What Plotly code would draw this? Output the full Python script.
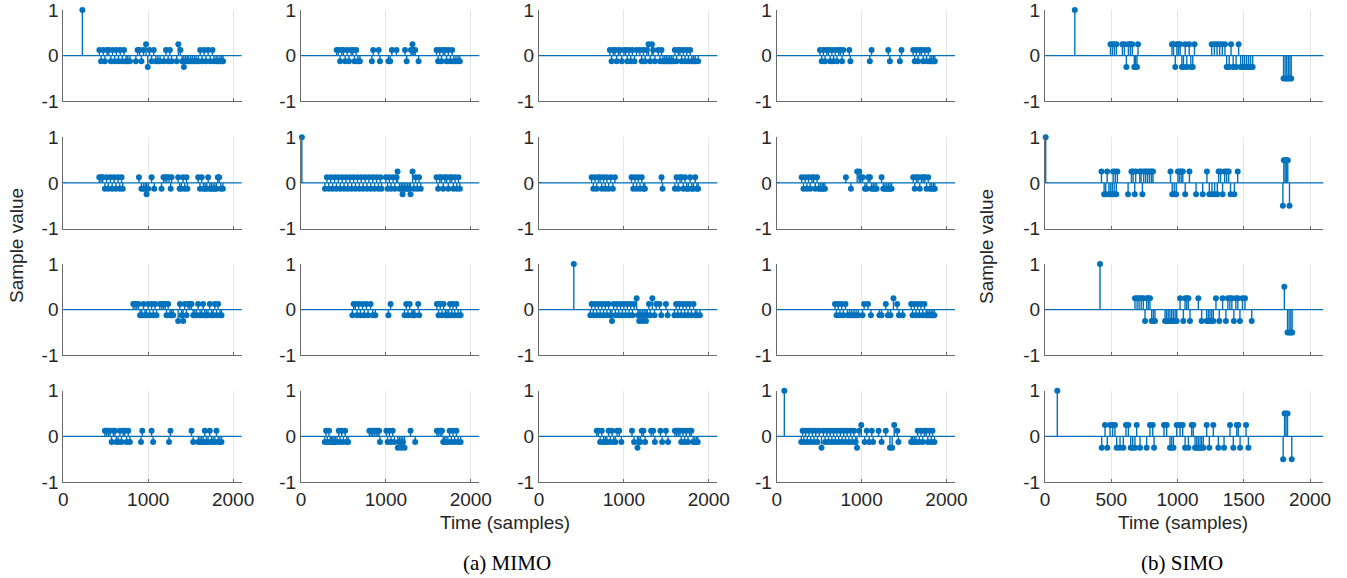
import plotly.graph_objects as go

# ---------------- data: (time in samples, sample value) ----------------
m11 = [(225,1),
       (425,.125),(445,-.125),(470,.125),(490,-.125),(515,.125),(535,.125),(560,-.125),(580,.125),(605,-.125),(625,.125),(650,-.125),(670,.125),(695,-.125),(715,.125),(740,-.125),(760,-.125),(785,-.125),
       (855,-.125),(875,.125),(900,.125),(920,-.125),(945,.125),(975,.25),(995,-.25),(1015,.125),(1040,-.125),(1065,.125),(1090,-.125),(1115,-.125),(1140,-.125),
       (1185,-.125),(1210,.125),(1235,-.125),(1255,.125),(1275,-.125),
       (1335,-.125),(1355,.25),(1380,.125),(1400,-.125),(1420,-.25),(1440,-.125),(1460,-.125),
       (1475,-.125),(1500,-.125),(1520,-.125),(1545,-.125),(1565,-.125),(1590,-.125),(1612,.125),(1635,-.125),(1659,.125),(1680,-.125),(1706,.125),(1730,-.125),(1757,.125),(1775,-.125),(1800,-.125),(1820,-.125),(1845,-.125),(1865,-.125),(1882,-.125)]

m12 = [(420,.125),(440,.125),(460,-.125),(480,.125),(500,.125),(520,-.125),(545,.125),(565,-.125),(590,.125),(610,.125),(630,-.125),(650,.125),(670,-.125),(694,-.125),
       (835,-.125),(850,.125),(915,.125),(930,-.125),
       (1030,-.125),(1050,-.125),(1070,.125),(1125,.125),
       (1225,.125),(1245,-.125),(1295,.125),(1313,.25),(1330,.125),(1345,.125),(1385,-.125),
       (1596,.125),(1615,-.125),(1635,.125),(1655,-.125),(1675,.125),(1695,.125),(1715,-.125),(1735,.125),(1760,-.125),(1780,.125),(1800,-.125),(1825,-.125),(1850,-.125),(1871,-.125)]

m13 = [(835,.125),(855,-.125),(875,.125),(895,.125),(915,-.125),(935,.125),(955,.125),(975,-.125),(1000,.125),(1020,.125),(1040,-.125),(1060,.125),(1080,-.125),(1100,.125),(1125,-.125),(1149,.125),
       (1188,.125),(1210,-.125),(1230,.125),(1250,-.125),(1270,.125),(1290,.25),(1310,-.125),(1330,.25),(1345,.125),(1365,-.125),
       (1404,.125),(1425,-.125),(1443,.125),
       (1460,-.125),(1480,-.125),(1500,-.125),(1520,-.125),(1540,-.125),(1560,-.125),(1580,-.125),(1600,.125),(1620,-.125),(1640,.125),(1660,.125),(1680,-.125),(1700,.125),(1720,-.125),(1740,.125),(1760,-.125),(1780,.125),(1800,-.125),(1820,-.125),(1840,-.125),(1874,-.125)]

m14 = [(510,.125),(530,-.125),(550,.125),(570,-.125),(590,.125),(610,.125),(630,-.125),(650,.125),(670,-.125),(690,.125),(710,-.125),(730,.125),(750,.125),(770,-.125),(784,.125),
       (855,.125),(868,-.125),(1097,-.125),(1117,.125),(1314,.125),(1333,-.125),(1451,-.125),(1470,.125),
       (1608,.125),(1625,-.125),(1645,.125),(1665,-.125),(1685,.125),(1705,.125),(1725,-.125),(1745,.125),(1765,-.125),(1785,.125),(1805,-.125),(1825,-.125),(1845,-.125),(1862,-.125)]

m21 = [(424,.125),(445,.125),(465,.125),(490,-.125),(510,.125),(530,-.125),(555,.125),(575,-.125),(600,.125),(620,-.125),(645,.125),(665,-.125),(686,.125),(700,-.125),
       (891,.125),(920,-.125),(945,-.125),(965,-.125),(981,-.25),(1000,-.125),(1040,.125),(1071,-.125),
       (1157,-.125),(1180,.125),(1200,.125),(1220,.125),(1245,.125),(1265,-.125),(1275,.125),
       (1353,.125),(1370,-.125),(1390,-.125),(1410,.125),(1430,-.125),(1451,.125),(1462,-.125),
       (1589,.125),(1610,-.125),(1630,.125),(1650,-.125),(1670,-.125),(1690,-.125),(1706,.125),(1725,-.125),(1745,-.125),(1765,-.125),(1785,-.125),(1805,-.125),(1820,.125),(1836,.125),(1855,-.125),(1880,-.125)]

m22 = [(10,1),
       (282,-.125),(305,.125),(327,-.125),(350,.125),(372,-.125),(395,.125),(417,-.125),(440,.125),(462,-.125),(485,.125),(507,-.125),(530,.125),(552,-.125),(575,.125),(597,-.125),(620,.125),
       (642,-.125),(665,.125),(687,-.125),(710,.125),(732,-.125),(755,.125),(777,-.125),(800,.125),(822,-.125),(845,.125),(867,-.125),(890,.125),(912,-.125),(935,.125),(949,-.125),
       (1000,.125),(1020,-.125),(1040,.125),(1060,-.125),(1085,.125),(1105,-.125),(1125,.125),
       (1137,.25),(1160,-.125),(1180,-.125),(1196,-.25),(1215,-.125),(1235,-.125),(1255,-.125),(1275,-.125),(1290,-.25),(1314,.25),(1330,-.125),(1350,.125),(1370,-.125),(1390,.125),(1410,-.125),
       (1596,.125),(1615,-.125),(1635,.125),(1655,.125),(1675,-.125),(1695,.125),(1715,.125),(1735,-.125),(1755,.125),(1775,.125),(1795,-.125),(1815,.125),(1835,-.125),(1855,.125),(1871,-.125)]

m23 = [(620,.125),(640,-.125),(660,.125),(680,-.125),(700,.125),(720,.125),(740,-.125),(760,.125),(780,-.125),(800,.125),(820,-.125),(845,.125),(870,-.125),(894,.125),
       (1090,.125),(1110,-.125),(1130,.125),(1150,-.125),(1170,.125),(1190,-.125),(1210,.125),(1230,-.125),(1247,-.125),
       (1443,.125),(1455,-.125),
       (1600,-.125),(1620,.125),(1640,-.125),(1660,.125),(1680,.125),(1700,-.125),(1720,.125),(1740,-.125),(1760,-.125),(1780,.125),(1800,-.125),(1820,-.125),(1840,.125),(1860,-.125),(1874,-.125)]

m24 = [(294,.125),(315,-.125),(335,.125),(355,-.125),(375,.125),(395,-.125),(415,.125),(435,.125),(455,-.125),(475,.125),(495,-.125),(515,-.125),(535,-.125),(550,-.125),(568,-.125),
       (815,.125),(874,-.125),(948,.25),(972,.25),(990,.125),(1011,.125),(1039,-.125),(1060,-.125),(1078,.125),(1098,.125),(1117,-.125),(1137,-.125),(1157,-.125),(1176,-.125),
       (1235,.125),(1255,-.125),(1275,-.125),(1295,-.125),(1315,-.125),(1335,-.125),(1353,-.125),
       (1608,.125),(1625,-.125),(1645,.125),(1665,.125),(1685,-.125),(1705,.125),(1725,.125),(1745,.125),(1765,-.125),(1785,.125),(1805,-.125),(1825,-.125),(1845,-.125),(1862,-.125)]

m31 = [(824,.125),(845,.125),(865,.125),(885,.125),(905,-.125),(925,-.125),(945,.125),(961,-.125),(980,-.125),(1000,.125),(1020,-.125),(1040,.125),(1060,-.125),(1080,.125),(1098,-.125),
       (1137,.125),(1160,.125),(1180,.125),(1200,.125),(1216,-.125),(1235,.125),(1255,-.125),(1275,-.125),(1294,-.125),
       (1353,-.25),(1373,.125),(1392,-.125),(1412,-.25),(1430,.125),(1450,-.125),(1470,.125),(1490,.125),(1510,.125),(1530,-.125),(1550,-.125),(1570,-.125),
       (1588,.125),(1610,-.125),(1630,-.125),(1647,.125),(1665,-.125),(1685,-.125),(1705,-.125),(1725,.125),(1745,-.125),(1765,-.125),(1785,.125),(1805,-.125),(1823,.125),(1845,-.125),(1863,-.125)]

m32 = [(605,-.125),(620,.125),(640,.125),(660,-.125),(680,.125),(700,-.125),(725,.125),(745,-.125),(770,.125),(790,-.125),(820,.125),(845,-.125),(875,-.125),
       (1030,-.125),(1055,.125),
       (1220,-.125),(1240,.125),(1260,-.125),(1280,.125),(1305,-.125),(1322,-.125),(1340,-.125),(1380,.125),(1392,-.125),
       (1600,.125),(1620,-.125),(1640,.125),(1660,-.125),(1680,.125),(1700,-.125),(1720,-.125),(1740,-.125),(1755,.125),(1775,-.125),(1790,.125),(1810,-.125),(1830,.125),(1850,-.125),(1880,-.125)]

m33 = [(410,1),
       (605,-.125),(620,.125),(640,-.125),(660,.125),(680,-.125),(700,.125),(720,-.125),(740,.125),(760,-.125),(780,.125),(800,-.125),(820,.125),(840,-.125),(860,-.25),(880,.125),(900,-.125),
       (920,.125),(940,-.125),(960,.125),(980,-.125),(1000,.125),(1020,-.125),(1040,.125),(1060,-.125),(1080,.125),(1100,-.125),(1120,.125),
       (1150,.25),(1165,-.125),(1180,-.25),(1200,-.125),(1220,-.25),(1240,-.125),(1260,-.25),(1275,-.125),(1295,.125),(1310,-.125),(1335,.25),(1360,-.125),(1380,.125),
       (1420,.125),(1440,-.125),(1495,.125),(1515,-.125),
       (1595,-.125),(1615,.125),(1635,-.125),(1655,.125),(1675,-.125),(1695,.125),(1715,-.125),(1735,.125),(1755,-.125),(1775,.125),(1795,-.125),(1820,.125),(1840,-.125),(1860,-.125),(1895,-.125)]

m34 = [(687,.125),(705,-.125),(725,.125),(745,-.125),(765,.125),(785,-.125),(810,.125),(835,-.125),(860,-.125),(885,-.125),(910,-.125),(935,-.125),(961,-.125),
       (1011,-.125),(1030,.125),(1075,.125),(1110,-.125),
       (1210,-.125),(1235,-.125),(1285,.125),(1310,-.125),(1340,-.125),(1375,.25),(1419,.125),(1440,-.125),(1484,-.125),
       (1584,.125),(1600,-.125),(1620,.125),(1640,-.125),(1660,.125),(1680,-.125),(1700,.125),(1720,-.125),(1740,.125),(1760,-.125),(1780,-.125),(1800,-.125),(1820,-.125),(1840,-.125),(1858,-.125)]

m41 = [(490,.125),(510,.125),(530,.125),(550,.125),(569,-.125),(590,.125),(608,.125),(625,-.125),(645,-.125),(667,.125),(685,-.125),(705,.125),(725,.125),(745,-.125),(765,.125),(784,-.125),
       (915,-.125),(930,.125),(1040,.125),(1058,-.125),(1245,-.125),(1262,.125),
       (1510,.125),(1530,-.125),(1590,-.125),(1610,-.125),(1630,-.125),(1650,-.125),(1667,.125),(1685,-.125),(1705,-.125),(1725,.125),(1745,-.125),(1765,-.125),(1785,-.125),(1804,.125),(1825,-.125),(1845,-.125),(1863,-.125)]

m42 = [(280,-.125),(295,.125),(310,-.125),(330,.125),(345,-.125),(360,-.125),(375,-.125),(390,-.125),(405,-.125),(425,-.125),(445,.125),(460,-.125),(480,.125),(500,-.125),(520,.125),(540,-.125),(555,-.125),
       (805,.125),(825,.125),(845,.125),(865,.125),(885,.125),(905,.125),(920,.125),(930,-.125),
       (1005,.125),(1020,-.125),(1040,.125),(1060,-.125),(1080,.125),(1100,-.125),(1140,-.25),(1160,-.125),(1180,-.25),(1200,-.125),(1220,-.25),(1290,.125),(1345,-.125),
       (1600,.125),(1620,.125),(1640,.125),(1660,.125),(1675,-.125),(1690,-.125),(1710,-.125),(1730,-.125),(1750,.125),(1770,-.125),(1790,.125),(1810,-.125),(1830,.125),(1850,-.125),(1880,-.125)]

m43 = [(680,.125),(700,.125),(720,-.125),(740,.125),(760,-.125),(780,-.125),(800,-.125),(820,.125),(840,-.125),(860,.125),(880,-.125),(900,-.125),(920,.125),(945,.125),(970,-.125),
       (1095,.125),(1120,-.125),(1160,-.25),(1175,-.125),(1195,-.125),(1210,.125),(1230,.125),(1250,-.125),(1320,.125),(1345,.125),(1365,-.125),
       (1430,.125),(1450,-.125),(1495,.125),(1520,-.125),
       (1600,.125),(1620,.125),(1640,.125),(1660,.125),(1675,-.125),(1695,.125),(1715,-.125),(1735,.125),(1755,-.125),(1775,.125),(1795,.125),(1815,-.125),(1835,-.125),(1855,-.125),(1870,-.125)]

m44 = [(90,1),
       (289,-.125),(305,.125),(320,-.125),(340,.125),(360,-.125),(380,.125),(400,-.125),(420,.125),(440,-.125),(460,.125),(480,-.125),(500,.125),(528,-.25),(550,.125),(570,-.125),(590,.125),
       (610,-.125),(630,.125),(650,-.125),(670,.125),(690,-.125),(710,.125),(730,-.125),(750,.125),(770,-.125),(790,.125),(810,-.125),(830,.125),(850,-.125),(870,.125),(890,-.125),(910,.125),
       (930,-.125),(946,-.25),(970,.125),(996,.25),
       (1036,-.125),(1061,.125),(1090,-.125),(1120,.125),(1135,-.125),(1200,.125),(1235,-.125),(1285,.125),(1334,-.25),(1360,-.25),(1384,.25),(1420,.125),(1434,-.125),
       (1584,-.125),(1600,-.125),(1620,-.125),(1640,-.125),(1660,.125),(1680,-.125),(1700,.125),(1720,-.125),(1740,.125),(1760,.125),(1780,-.125),(1800,.125),(1820,-.125),(1835,.125),(1858,-.125)]

s1 = [(225,1),
      (494,.25),(509,.25),(524,.25),(539,.25),(584,.25),(599,.25),(614,-.25),(629,.25),(644,.25),(659,.25),(674,-.25),(684,-.25),(694,-.25),(702,.25),
      (958,.25),(970,.25),(983,-.25),(995,.25),(1008,.25),(1020,.25),(1033,-.25),(1045,-.25),(1058,.25),(1070,-.25),(1088,.25),(1100,-.25),(1115,-.25),(1128,.25),
      (1258,.25),(1278,.25),(1298,.25),(1318,.25),(1338,.25),(1358,.25),(1371,-.25),(1390,-.25),(1404,.25),(1420,-.25),(1442,-.25),(1461,.25),(1476,-.25),(1491,-.25),(1506,-.25),(1521,-.25),(1536,-.25),(1551,-.25),(1567,-.25),
      (1800,-.5),(1812,-.5),(1824,-.5),(1836,-.5),(1848,-.5),(1858,-.5)]

s2 = [(5,1),
      (426,.25),(446,-.25),(458,-.25),(469,.25),(482,-.25),(495,-.25),(508,-.25),(514,.25),(522,-.25),(530,.25),(538,-.25),(546,.25),
      (627,-.25),(652,.25),(665,.25),(677,-.25),(684,.25),(715,.25),(725,.25),(735,-.25),(745,.25),(760,.25),(775,.25),(790,.25),(805,.25),(815,.25),
      (947,.25),(960,-.25),(975,-.25),(990,-.25),(1003,.25),(1015,.25),(1028,.25),(1040,.25),(1058,-.25),(1090,.25),(1140,-.25),(1190,-.25),(1222,.25),
      (1240,-.25),(1260,-.25),(1280,-.25),(1300,-.25),(1310,.25),(1325,.25),(1340,-.25),(1355,.25),(1370,.25),(1386,.25),(1400,-.25),(1429,-.25),(1454,.25),
      (1795,-.5),(1802,.5),(1812,.5),(1822,.5),(1832,.5),(1845,-.5)]

s3 = [(415,1),
      (679,.25),(695,.25),(710,.25),(726,.25),(742,.25),(755,-.25),(767,.25),(780,.25),(792,.25),(805,-.25),(818,-.25),(830,-.25),
      (906,-.25),(918,-.25),(930,-.25),(943,-.25),(956,-.25),(969,-.25),(982,-.25),(994,-.25),(1019,.25),(1044,-.25),(1057,.25),(1070,.25),(1082,.25),(1094,-.25),
      (1157,.25),(1182,-.25),(1220,-.25),(1233,-.25),(1245,-.25),(1258,-.25),(1270,-.25),(1290,.25),
      (1315,-.25),(1340,.25),(1365,-.25),(1380,.25),(1395,.25),(1410,.25),(1425,-.25),(1440,.25),(1455,.25),(1471,-.25),(1490,.25),(1509,.25),(1560,-.25),
      (1806,.5),(1830,-.5),(1842,-.5),(1855,-.5),(1865,-.5)]

s4 = [(93,1),
      (428,-.25),(453,.25),(470,-.25),(491,.25),(511,.25),(528,.25),(541,-.25),(566,-.25),(591,-.25),(611,.25),(629,.25),(647,-.25),(662,-.25),(679,-.25),(692,.25),(717,-.25),(767,-.25),(792,.25),(813,.25),(823,-.25),
      (898,.25),(918,.25),(943,-.25),(956,-.25),(969,-.25),(994,.25),(1019,.25),(1039,.25),(1057,-.25),(1082,-.25),(1107,.25),(1119,.25),(1132,-.25),(1145,-.25),(1157,-.25),(1170,-.25),(1182,-.25),(1195,-.25),
      (1220,.25),(1240,-.25),(1270,.25),(1308,-.25),(1351,-.25),(1396,.25),(1421,-.25),(1447,.25),(1459,.25),(1472,-.25),(1517,.25),(1535,-.25),
      (1797,-.5),(1808,.5),(1818,.5),(1830,.5),(1862,-.5)]

mimo_xticks = [0, 1000, 2000]
simo_xticks = [0, 500, 1000, 1500, 2000]
y_ticks = [-1, 0, 1]
y_ticktext = ["-1", "0", "1"]

grid = [[m11, m12, m13, m14, s1],
        [m21, m22, m23, m24, s2],
        [m31, m32, m33, m34, s3],
        [m41, m42, m43, m44, s4]]

# ---------------- styling / layout ----------------
W, H = 1347, 578
BLUE = "#0072BD"
AXC = "#6a6a6a"
GRIDC = "#e6e6e6"
TXT = "#262626"
FONT = "Liberation Sans, Arial, Helvetica, sans-serif"
col_left = [63.3, 301.0, 539.0, 776.7, 1045.0]
col_w = [178.3, 178.3, 178.3, 178.3, 278.3]
row_top = [10.0, 137.3, 264.0, 390.7]
row_h = 91.3

fig = go.Figure()
layout = {}
shapes = []
idx = 0
for r in range(4):
    for c in range(5):
        idx += 1
        data = grid[r][c]
        t = [p[0] for p in data]
        v = [p[1] for p in data]
        xa = "x" if idx == 1 else f"x{idx}"
        ya = "y" if idx == 1 else f"y{idx}"
        sx, sy = [], []
        for ti, vi in zip(t, v):
            sx += [ti, ti, None]
            sy += [0, vi, None]
        fig.add_trace(go.Scatter(x=sx, y=sy, mode="lines", line=dict(color=BLUE, width=1.4),
                                 xaxis=xa, yaxis=ya, hoverinfo="skip", showlegend=False, cliponaxis=False))
        fig.add_trace(go.Scatter(x=t, y=v, mode="markers",
                                 marker=dict(color=BLUE, size=6, symbol="circle", line=dict(width=0)),
                                 xaxis=xa, yaxis=ya, showlegend=False, cliponaxis=False))
        x0 = col_left[c] / W
        x1 = (col_left[c] + col_w[c]) / W
        y1 = 1 - row_top[r] / H
        y0 = 1 - (row_top[r] + row_h) / H
        xt = simo_xticks if c == 4 else mimo_xticks
        layout["xaxis" if idx == 1 else f"xaxis{idx}"] = dict(
            domain=[x0, x1], range=[0, 2100], anchor=ya, tickvals=xt,
            ticktext=[str(k) for k in xt], showticklabels=(r == 3), automargin=False,
            ticklabeloverflow="allow",
            showgrid=True, gridcolor=GRIDC, gridwidth=1, zeroline=False,
            showline=True, linecolor=AXC, linewidth=1,
            ticks="inside", ticklen=3, tickcolor=AXC,
            tickfont=dict(family=FONT, size=19, color=TXT), fixedrange=True)
        layout["yaxis" if idx == 1 else f"yaxis{idx}"] = dict(
            domain=[y0, y1], range=[-1, 1], anchor=xa, tickvals=y_ticks, ticktext=y_ticktext,
            automargin=False, ticklabeloverflow="allow",
            showgrid=True, gridcolor=GRIDC, gridwidth=1, zeroline=False,
            showline=True, linecolor=AXC, linewidth=1,
            ticks="inside", ticklen=3, tickcolor=AXC,
            tickfont=dict(family=FONT, size=19, color=TXT), fixedrange=True)
        shapes.append(dict(type="line", xref=f"{xa} domain", x0=0, x1=1, yref=ya, y0=0, y1=0,
                           line=dict(color=BLUE, width=1.2), layer="above"))


def label(text, px, py, size, family=FONT, color=TXT, angle=0):
    return dict(text=text, x=px / W, y=1 - py / H, textangle=angle, showarrow=False,
                xref="paper", yref="paper", xanchor="center", yanchor="middle",
                font=dict(family=family, size=size, color=color))


SERIF = "Liberation Serif, Times New Roman, serif"
annotations = [
    label("Sample value", 16, 246, 19, angle=-90),
    label("Sample value", 986, 246, 19, angle=-90),
    label("Time (samples)", 505, 522, 19),
    label("Time (samples)", 1183, 522, 19),
    label("(a) MIMO", 507, 563, 21, family=SERIF, color="#000000"),
    label("(b) SIMO", 1182, 563, 21, family=SERIF, color="#000000"),
]

fig.update_layout(width=W, height=H, margin=dict(l=0, r=0, t=0, b=0, autoexpand=False),
                  paper_bgcolor="white", plot_bgcolor="white", showlegend=False,
                  shapes=shapes, annotations=annotations, **layout)
fig.write_html("out.html")
